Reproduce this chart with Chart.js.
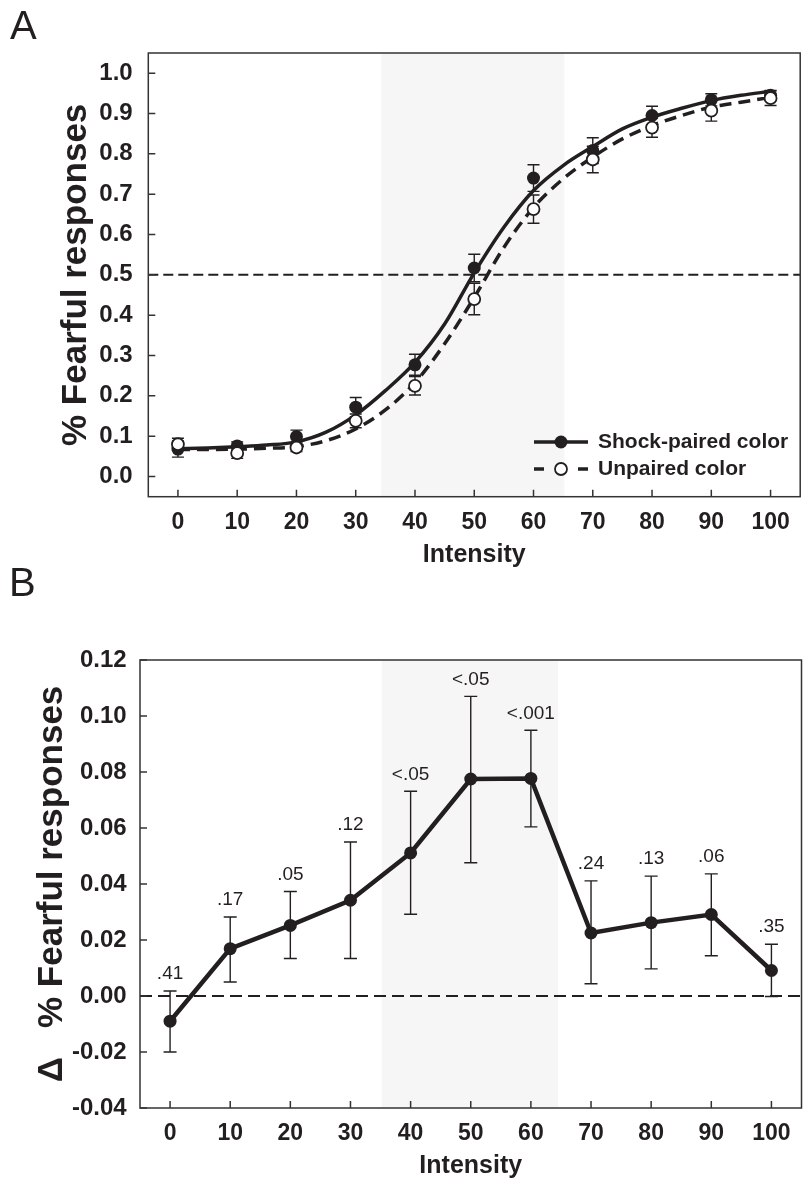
<!DOCTYPE html>
<html>
<head>
<meta charset="utf-8">
<title>Fearful responses</title>
<script src="https://cdn.jsdelivr.net/npm/chart.js@4.4.1/dist/chart.umd.min.js"></script>
<style>
  html, body { margin: 0; padding: 0; background: #fff; overflow: hidden; }
  #wrap { position: relative; width: 808px; height: 1187px; }
  .panel { position: absolute; left: 0; width: 808px; }
  #panelA { top: 0; height: 580px; }
  #panelB { top: 580px; height: 607px; }
  .tag { position: absolute; font: 40px/40px "Liberation Sans", Arial, sans-serif; color: #231f20; }
</style>
</head>
<body>
<div id="wrap">
  <div class="panel" id="panelA"><canvas id="chartA"></canvas></div>
  <div class="panel" id="panelB"><canvas id="chartB"></canvas></div>
  <div class="tag" style="left:10px; top:5px;">A</div>
  <div class="tag" style="left:9px; top:562px;">B</div>
</div>
<script>
// ---- data ----
const intensity = [0, 10, 20, 30, 40, 50, 60, 70, 80, 90, 100];

// panel A: mean proportion of fearful responses and SEM
const shockMean = [0.068, 0.076, 0.099, 0.172, 0.277, 0.517, 0.740, 0.808, 0.895, 0.934, 0.945];
const shockErr = [0.020, 0.010, 0.016, 0.024, 0.026, 0.034, 0.033, 0.032, 0.023, 0.015, 0.012];
const unpairedMean = [0.080, 0.058, 0.072, 0.138, 0.225, 0.440, 0.663, 0.786, 0.865, 0.907, 0.938];
const unpairedErr = [0.015, 0.013, 0.010, 0.017, 0.023, 0.039, 0.035, 0.033, 0.024, 0.026, 0.018];

// panel A: fitted curves, read every 5 units
const curveX = [0, 5, 10, 15, 20, 25, 30, 35, 40, 45, 50, 55, 60, 65, 70, 75, 80, 85, 90, 95, 100];
const shockFit = [0.069, 0.071, 0.074, 0.078, 0.086, 0.110, 0.153, 0.213, 0.283, 0.378, 0.505, 0.618, 0.709, 0.771, 0.818, 0.862, 0.891, 0.913, 0.932, 0.945, 0.955];
const unpairedFit = [0.067, 0.067, 0.068, 0.070, 0.074, 0.089, 0.118, 0.165, 0.233, 0.329, 0.444, 0.568, 0.667, 0.738, 0.792, 0.837, 0.870, 0.895, 0.916, 0.928, 0.940];

// panel B: difference (shock-paired minus unpaired), error bar ends, p values
const diffMean = [-0.009, 0.0169, 0.0252, 0.0342, 0.0511, 0.0775, 0.0777, 0.0225, 0.0262, 0.0291, 0.0091];
const diffHi = [0.0018, 0.0282, 0.0373, 0.0550, 0.0731, 0.1070, 0.0949, 0.0411, 0.0428, 0.0436, 0.0185];
const diffLo = [-0.0200, 0.0050, 0.0134, 0.0134, 0.0292, 0.0476, 0.0604, 0.0044, 0.0097, 0.0144, -0.0002];
const pLabels = [".41", ".17", ".05", ".12", "<.05", "<.05", "<.001", ".24", ".13", ".06", ".35"];

// axis ticks and shaded ranges
const xTicks = [0, 10, 20, 30, 40, 50, 60, 70, 80, 90, 100];
const yTicksA = [0, 0.1, 0.2, 0.3, 0.4, 0.5, 0.6, 0.7, 0.8, 0.9, 1.0];
const yTicksB = [-0.04, -0.02, 0, 0.02, 0.04, 0.06, 0.08, 0.10, 0.12];
const shadeA = [34.3, 65.2];
const shadeB = [35.2, 64.5];
const refLineA = 0.5;
const refLineB = 0;

const INK = "#231f20";
const FONT = '"Liberation Sans", Arial, Helvetica, sans-serif';
Chart.defaults.font.family = FONT;
Chart.defaults.color = INK;

function toPts(xs, ys) {
  return xs.map(function (x, i) { return { x: x, y: ys[i] }; });
}

// ---- drawing helpers (all positions go through the chart scales) ----
function drawBand(chart, range) {
  const { ctx, chartArea: a, scales: { x } } = chart;
  const x0 = x.getPixelForValue(range[0]);
  const x1 = x.getPixelForValue(range[1]);
  ctx.fillStyle = "#f6f6f6";
  ctx.fillRect(x0, a.top, x1 - x0, a.bottom - a.top);
}

function drawRefLine(chart, value, dash, width) {
  const { ctx, chartArea: a, scales: { y } } = chart;
  const py = y.getPixelForValue(value);
  ctx.save();
  ctx.strokeStyle = INK;
  ctx.lineWidth = width;
  ctx.setLineDash(dash);
  ctx.beginPath();
  ctx.moveTo(a.left, py);
  ctx.lineTo(a.right, py);
  ctx.stroke();
  ctx.restore();
}

function drawErrorBars(chart, xs, lo, hi, cap) {
  const { ctx, scales: { x, y } } = chart;
  ctx.save();
  ctx.strokeStyle = INK;
  ctx.lineWidth = 1.4;
  xs.forEach(function (v, i) {
    const px = x.getPixelForValue(v);
    const pLo = y.getPixelForValue(lo[i]);
    const pHi = y.getPixelForValue(hi[i]);
    ctx.beginPath();
    ctx.moveTo(px, pLo); ctx.lineTo(px, pHi);
    ctx.moveTo(px - cap, pLo); ctx.lineTo(px + cap, pLo);
    ctx.moveTo(px - cap, pHi); ctx.lineTo(px + cap, pHi);
    ctx.stroke();
  });
  ctx.restore();
}

function drawFrame(chart, xt, yt) {
  const { ctx, chartArea: a, scales: { x, y } } = chart;
  ctx.save();
  ctx.strokeStyle = "#333";
  ctx.lineWidth = 1.5;
  ctx.strokeRect(a.left, a.top, a.right - a.left, a.bottom - a.top);
  ctx.beginPath();
  // tick marks point inward
  xt.forEach(function (v) {
    const px = x.getPixelForValue(v);
    ctx.moveTo(px, a.bottom); ctx.lineTo(px, a.bottom - 7);
  });
  yt.forEach(function (v) {
    const py = y.getPixelForValue(v);
    ctx.moveTo(a.left, py); ctx.lineTo(a.left + 7, py);
  });
  ctx.stroke();
  ctx.restore();
}

function axisX(height, titlePad) {
  return {
    type: "linear",
    min: -5,
    max: 105,
    afterBuildTicks: function (s) { s.ticks = xTicks.map(function (v) { return { value: v }; }); },
    afterFit: function (s) { s.height = height; },
    grid: { display: false, drawTicks: false },
    border: { display: false },
    ticks: { font: { size: 23, weight: "bold" }, padding: 12, color: INK },
    title: { display: true, text: "Intensity", color: INK, font: { size: 25, weight: "bold" }, padding: { top: 0, bottom: titlePad } },
  };
}

// ---- panel A ----
const decorA = {
  id: "decorA",
  beforeDatasetsDraw: function (chart) {
    drawBand(chart, shadeA);
    drawRefLine(chart, refLineA, [10, 5], 2);
    drawErrorBars(chart, intensity,
      shockMean.map(function (m, i) { return m - shockErr[i]; }),
      shockMean.map(function (m, i) { return m + shockErr[i]; }), 6);
    drawErrorBars(chart, intensity,
      unpairedMean.map(function (m, i) { return m - unpairedErr[i]; }),
      unpairedMean.map(function (m, i) { return m + unpairedErr[i]; }), 6);
  },
  afterDraw: function (chart) {
    const ctx = chart.ctx;
    drawFrame(chart, xTicks, yTicksA);
    // legend
    ctx.save();
    ctx.strokeStyle = INK;
    ctx.fillStyle = INK;
    ctx.lineWidth = 3.5;
    ctx.beginPath();
    ctx.moveTo(534, 442); ctx.lineTo(588, 442);
    ctx.moveTo(534, 469); ctx.lineTo(544, 469);
    ctx.moveTo(578, 469); ctx.lineTo(588, 469);
    ctx.stroke();
    ctx.beginPath();
    ctx.arc(561, 442, 6.5, 0, Math.PI * 2);
    ctx.fill();
    ctx.beginPath();
    ctx.arc(561, 469, 6, 0, Math.PI * 2);
    ctx.fillStyle = "#fff";
    ctx.fill();
    ctx.lineWidth = 1.8;
    ctx.stroke();
    ctx.fillStyle = INK;
    ctx.font = "bold 21px " + FONT;
    ctx.textBaseline = "middle";
    ctx.fillText("Shock-paired color", 598, 442);
    ctx.fillText("Unpaired color", 598, 469);
    ctx.restore();
  },
};

let chartA = new Chart(document.getElementById("chartA").getContext("2d"), {
  type: "line",
  data: {
    datasets: [
      {
        label: "Unpaired color",
        data: toPts(intensity, unpairedMean),
        showLine: false,
        pointRadius: 6,
        pointBackgroundColor: "#fff",
        pointBorderColor: INK,
        pointBorderWidth: 1.8,
      },
      {
        label: "Shock-paired color",
        data: toPts(intensity, shockMean),
        showLine: false,
        pointRadius: 6.5,
        pointBackgroundColor: INK,
        pointBorderColor: INK,
        pointBorderWidth: 0,
      },
      {
        label: "Shock-paired fit",
        data: toPts(curveX, shockFit),
        borderColor: INK,
        borderWidth: 3.5,
        pointRadius: 0,
        cubicInterpolationMode: "monotone",
        fill: false,
      },
      {
        label: "Unpaired fit",
        data: toPts(curveX, unpairedFit),
        borderColor: INK,
        borderWidth: 3.5,
        borderDash: [12, 7],
        pointRadius: 0,
        cubicInterpolationMode: "monotone",
        fill: false,
      },
    ],
  },
  options: {
    responsive: true,
    maintainAspectRatio: false,
    animation: false,
    layout: { padding: { top: 53, right: 0, bottom: 0, left: 0 } },
    plugins: { legend: { display: false }, tooltip: { enabled: false } },
    scales: {
      x: axisX(83.3, 10),
      y: {
        type: "linear",
        min: -0.05,
        max: 1.05,
        afterBuildTicks: function (s) { s.ticks = yTicksA.map(function (v) { return { value: v }; }); },
        afterFit: function (s) { s.width = 148.3; },
        grid: { display: false, drawTicks: false },
        border: { display: false },
        ticks: {
          font: { size: 24, weight: "bold" },
          padding: 15.6,
          color: INK,
          callback: function (v) { return v.toFixed(1); },
        },
        title: { display: true, text: "% Fearful responses", color: INK, font: { size: 35, weight: "bold" }, padding: { top: 55, bottom: 0 } },
      },
    },
  },
  plugins: [decorA],
});

// ---- panel B ----
const decorB = {
  id: "decorB",
  beforeDatasetsDraw: function (chart) {
    drawBand(chart, shadeB);
    drawRefLine(chart, refLineB, [12, 6], 2.2);
    drawErrorBars(chart, intensity, diffLo, diffHi, 6.5);
  },
  afterDraw: function (chart) {
    const { ctx, scales: { x, y } } = chart;
    drawFrame(chart, xTicks, yTicksB);
    // p values over each error bar
    ctx.save();
    ctx.fillStyle = INK;
    ctx.font = "19px " + FONT;
    ctx.textAlign = "center";
    ctx.textBaseline = "middle";
    intensity.forEach(function (v, i) {
      ctx.fillText(pLabels[i], x.getPixelForValue(v), y.getPixelForValue(diffHi[i]) - 17);
    });
    ctx.restore();
  },
};

let chartB = new Chart(document.getElementById("chartB").getContext("2d"), {
  type: "line",
  data: {
    datasets: [
      {
        label: "Difference",
        data: toPts(intensity, diffMean),
        borderColor: INK,
        borderWidth: 4.5,
        pointRadius: 6.5,
        pointBackgroundColor: INK,
        pointBorderColor: INK,
        pointBorderWidth: 0,
        tension: 0,
        fill: false,
      },
    ],
  },
  options: {
    responsive: true,
    maintainAspectRatio: false,
    animation: false,
    layout: { padding: { top: 80, right: 1.3, bottom: 0, left: 0 } },
    plugins: { legend: { display: false }, tooltip: { enabled: false } },
    scales: {
      x: axisX(79, 6),
      y: {
        type: "linear",
        min: -0.04,
        max: 0.12,
        afterBuildTicks: function (s) { s.ticks = yTicksB.map(function (v) { return { value: v }; }); },
        afterFit: function (s) { s.width = 140; },
        grid: { display: false, drawTicks: false },
        border: { display: false },
        ticks: {
          font: { size: 24, weight: "bold" },
          padding: 13.3,
          color: INK,
          callback: function (v) { return v.toFixed(2); },
        },
        title: { display: true, text: "\u0394   % Fearful responses", color: INK, font: { size: 35, weight: "bold" }, padding: { top: 31, bottom: 0 } },
      },
    },
  },
  plugins: [decorB],
});
</script>
</body>
</html>
